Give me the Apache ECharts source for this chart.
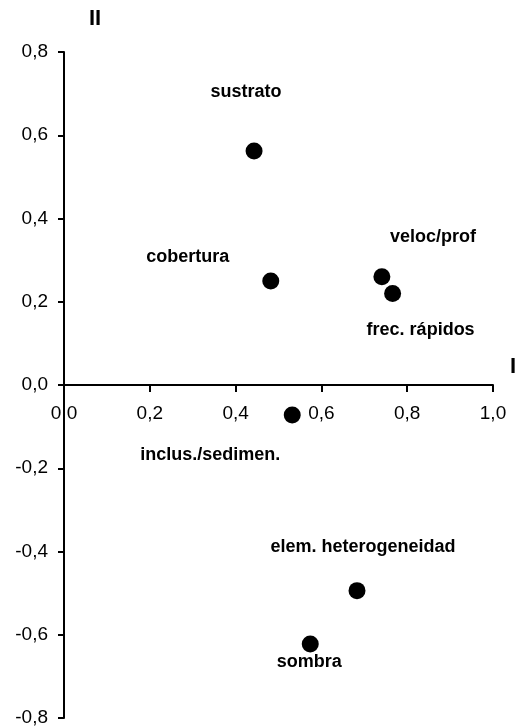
<!DOCTYPE html>
<html>
<head>
<meta charset="utf-8">
<script src="https://cdn.jsdelivr.net/npm/echarts@6/dist/echarts.min.js"></script>
<style>
html,body{margin:0;padding:0;background:#fff;}
#chart{width:519px;height:726px;}
</style>
</head>
<body>
<div id="chart"></div>
<script>
// ---- data ----
var names = ['sustrato', 'cobertura', 'veloc/prof', 'frec. rápidos', 'inclus./sedimen.', 'elem. heterogeneidad', 'sombra'];
var factorI = [0.443, 0.482, 0.741, 0.766, 0.532, 0.683, 0.574];
var factorII = [0.562, 0.250, 0.260, 0.220, -0.072, -0.494, -0.622];
var xTicks = [0, 0.2, 0.4, 0.6, 0.8, 1.0];
var yTicks = [-0.8, -0.6, -0.4, -0.2, 0, 0.2, 0.4, 0.6, 0.8];
var axisNameX = 'I';
var axisNameY = 'II';

// ---- style: label offsets (px) per point ----
var labelOffsets = [[-8, -59], [-83, -24], [51, -40], [28, 37], [-82, 40], [6, -44], [-1, 18]];

var fmt = function (v) { return v.toFixed(1).replace('.', ','); };
var font = 'Liberation Sans, Arial, sans-serif';

var gridTop = 52, gridBottom = 8, H = 726;
var plotH = H - gridTop - gridBottom;

var data = names.map(function (n, i) {
  return {
    name: n,
    value: [factorI[i], factorII[i]],
    label: { offset: labelOffsets[i] }
  };
});

var chart = echarts.init(document.getElementById('chart'));
chart.setOption({
  backgroundColor: '#fff',
  animation: false,
  grid: { left: 64, right: 26, top: gridTop, bottom: gridBottom, containLabel: false, outerBoundsMode: 'none' },
  xAxis: {
    type: 'value',
    min: xTicks[0], max: xTicks[xTicks.length - 1], interval: 0.2,
    offset: -plotH / 2,
    splitLine: { show: false },
    axisLine: { onZero: false, lineStyle: { color: '#000', width: 2 } },
    axisTick: { show: true, length: 7, lineStyle: { color: '#000', width: 2 } },
    axisLabel: { formatter: fmt, color: '#000', fontSize: 19, fontFamily: font, margin: 19, showMinLabel: true, showMaxLabel: true }
  },
  yAxis: {
    type: 'value',
    min: yTicks[0], max: yTicks[yTicks.length - 1], interval: 0.2,
    splitLine: { show: false },
    axisLine: { onZero: false, lineStyle: { color: '#000', width: 2 } },
    axisTick: { show: true, length: 6, lineStyle: { color: '#000', width: 2 } },
    axisLabel: { formatter: fmt, color: '#000', fontSize: 19, fontFamily: font, margin: 16 }
  },
  graphic: [
    { type: 'text', left: 89, top: 8, style: { text: axisNameY, font: 'bold 22px ' + font, fill: '#000' } },
    { type: 'text', left: 510, top: 356, style: { text: axisNameX, font: 'bold 22px ' + font, fill: '#000' } }
  ],
  series: [{
    type: 'scatter',
    symbol: 'circle',
    symbolSize: 17,
    itemStyle: { color: '#000', opacity: 1 },
    data: data,
    label: {
      show: true,
      position: 'inside',
      formatter: '{b}',
      color: '#000',
      opacity: 1,
      fontSize: 18,
      fontWeight: 'bold',
      fontFamily: font,
      align: 'center',
      verticalAlign: 'middle'
    }
  }]
});
</script>
</body>
</html>
